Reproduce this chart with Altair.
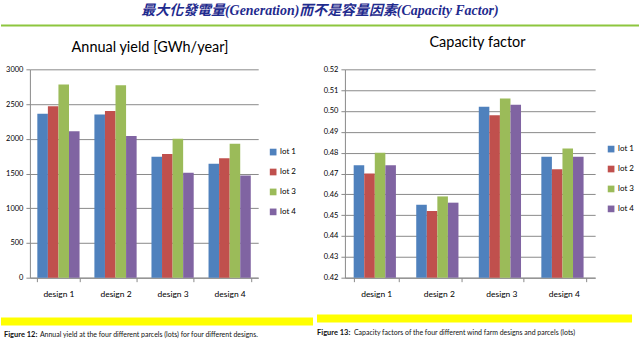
import altair as alt
import pandas as pd

# ---------------- data ----------------
designs = ["design 1", "design 2", "design 3", "design 4"]
lots = ["lot 1", "lot 2", "lot 3", "lot 4"]

yield_lot1 = [2360, 2350, 1740, 1640]
yield_lot2 = [2470, 2400, 1780, 1720]
yield_lot3 = [2780, 2770, 2000, 1930]
yield_lot4 = [2110, 2040, 1510, 1470]

cf_lot1 = [0.474, 0.455, 0.502, 0.478]
cf_lot2 = [0.470, 0.452, 0.498, 0.472]
cf_lot3 = [0.480, 0.459, 0.506, 0.482]
cf_lot4 = [0.474, 0.456, 0.503, 0.478]

yield_ticks = [0, 500, 1000, 1500, 2000, 2500, 3000]
cf_ticks = [0.42, 0.43, 0.44, 0.45, 0.46, 0.47, 0.48, 0.49, 0.50, 0.51, 0.52]

page_title = "最大化發電量(Generation)而不是容量因素(Capacity Factor)"
left_title = "Annual yield [GWh/year]"
right_title = "Capacity factor"
left_cap_bold = "Figure 12:"
left_cap_text = "Annual yield at the four different parcels (lots) for four different designs."
right_cap_bold = "Figure 13:"
right_cap_text = "Capacity factors of the four different wind farm designs and parcels (lots)"

colors = ["#4F81BD", "#C0504D", "#9BBB59", "#8064A2"]

# ---------------- tables ----------------
def long_table(series):
    rows = []
    for lot, vals in zip(lots, series):
        for d, v in zip(designs, vals):
            rows.append({"design": d, "lot": lot, "value": v})
    return pd.DataFrame(rows)

df_yield = long_table([yield_lot1, yield_lot2, yield_lot3, yield_lot4])
df_cf = long_table([cf_lot1, cf_lot2, cf_lot3, cf_lot4])

FONT = "Lato, sans-serif"
GRID = "#8a8a8a"
W1, W2, H = 229, 251, 209
one = alt.Data(values=[{"k": 1}])


def bars(df, width_pad, ydomain, yticks, yfmt, legend_x, legend_y):
    return alt.Chart(df).mark_bar().encode(
        x=alt.X("design:N", sort=designs,
                scale=alt.Scale(paddingInner=width_pad, paddingOuter=width_pad / 2),
                axis=alt.Axis(title=None, labelAngle=0, tickBand="extent", ticks=True,
                              tickSize=4, tickColor=GRID, domainColor=GRID,
                              labelFont=FONT, labelFontSize=8.5, labelColor="#000",
                              labelPadding=8, grid=False)),
        xOffset=alt.XOffset("lot:N", sort=lots,
                            scale=alt.Scale(paddingInner=0, paddingOuter=0)),
        y=alt.Y("value:Q",
                scale=alt.Scale(domain=ydomain, nice=False, zero=False),
                axis=alt.Axis(title=None, values=yticks, format=yfmt, grid=True,
                              gridColor=GRID, gridWidth=1, domainColor=GRID,
                              tickColor=GRID, tickSize=4, labelFont=FONT,
                              labelFontSize=7.5, labelColor="#000", labelPadding=3)),
        y2=alt.datum(ydomain[0]),
        color=alt.Color("lot:N", sort=lots,
                        scale=alt.Scale(domain=lots, range=colors),
                        legend=alt.Legend(title=None, orient="none",
                                          legendX=legend_x, legendY=legend_y,
                                          symbolType="square", symbolSize=45,
                                          symbolStrokeWidth=0, labelFont=FONT,
                                          labelFontSize=8, labelColor="#000",
                                          labelOffset=3, rowPadding=12, padding=0)),
    )


def text(txt, x, y, size, font=FONT, weight="normal", style="normal",
         color="#111", align="left", baseline="alphabetic"):
    return alt.Chart(one).mark_text(
        text=txt, font=font, fontSize=size, fontWeight=weight, fontStyle=style,
        color=color, align=align, baseline=baseline
    ).encode(x=alt.value(x), y=alt.value(y))


def rect(x1, x2, y1, y2, color, opacity=1.0):
    return alt.Chart(one).mark_rect(color=color, opacity=opacity).encode(
        x=alt.value(x1), x2=alt.value(x2), y=alt.value(y1), y2=alt.value(y2))


# ---------------- left panel (origin 29, 69) ----------------
left = alt.layer(
    rect(-29, 611, -69, 279, "white", opacity=0),
    alt.Chart(one).mark_rule(color="#8DC63F", strokeWidth=2).encode(
        x=alt.value(-29), x2=alt.value(611), y=alt.value(-44)),
    text(page_title, 291, -58,
         14, font="Liberation Serif, Noto Sans CJK TC, serif", weight="bold",
         style="italic", color="#1F2B8E", align="center", baseline="middle"),
    bars(df_yield, 0.26, [0, 3000], yield_ticks, "d", 240, 79),
    text(left_title, 120.5, -17, 14.5, align="center", color="#000"),
    rect(-29, 284, 249, 257, "#FFFF00"),
    text(left_cap_bold, -26, 269, 7.5, weight="bold"),
    text(left_cap_text, 10, 269, 7),
).properties(width=W1, height=H)

# ---------------- right panel (origin 345, 69) ----------------
right = alt.layer(
    bars(df_cf, 0.28, [0.42, 0.52], cf_ticks, ".2f", 263, 76),
    text(right_title, 133, -22, 14.5, align="center", color="#000"),
    rect(-28, 288, 246, 254, "#FFFF00"),
    text(right_cap_bold, -28, 267, 7.5, weight="bold"),
    text(right_cap_text, 9, 267, 7),
).properties(width=W2, height=H)

chart = alt.hconcat(left, right, spacing=87, bounds="flush").resolve_scale(
    color="independent", x="independent", y="independent"
).resolve_legend(color="independent").properties(
    padding=0, background="white"
).configure_view(stroke=None)

chart.save("out.html", embed_options={"renderer": "svg", "actions": False})
